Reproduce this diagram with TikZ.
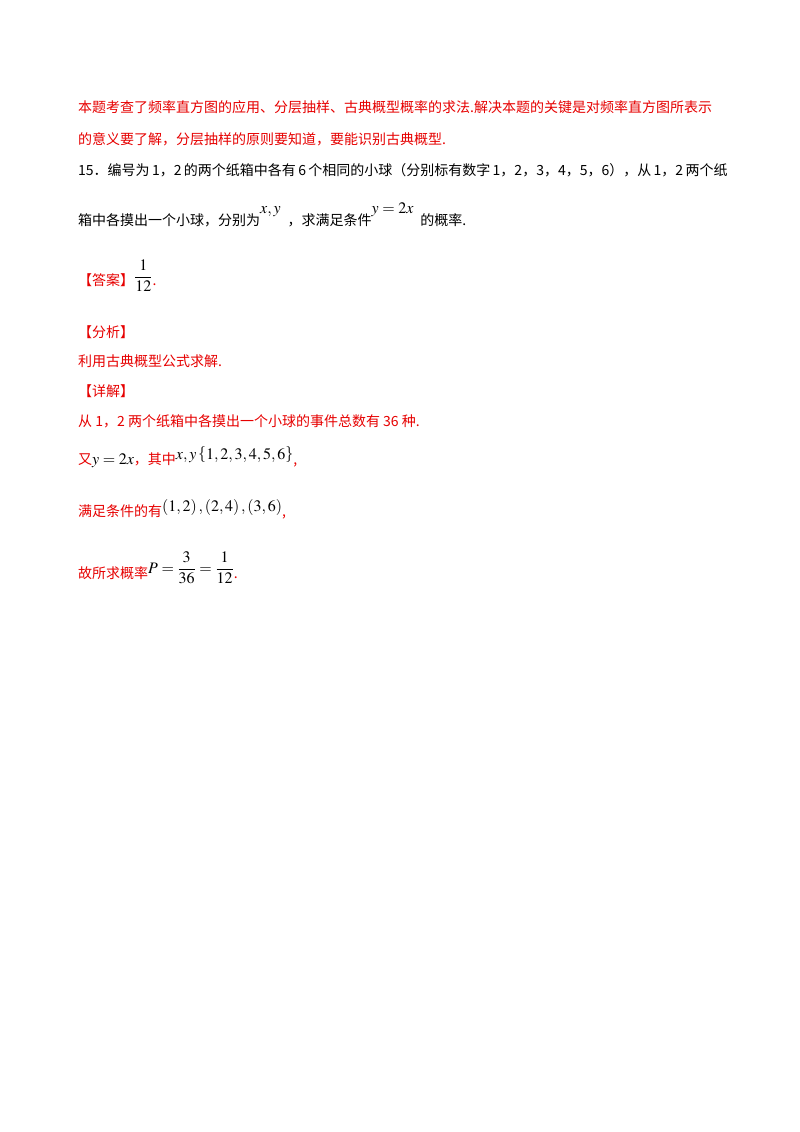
\documentclass[tikz,border=0pt]{standalone}
\usepackage{amsmath}
\usepackage{mathptmx}
\usepackage[no-math]{fontspec}
\setmainfont{Liberation Serif}
\newfontfamily\cjk{Noto Sans CJK SC}
\usepackage{xcolor}
\definecolor{ansred}{RGB}{230,0,0}
\newcommand{\mth}[1]{{\color{black}\fontsize{16}{16}\selectfont$#1$}}
\tikzset{ln/.style={anchor=base west,inner sep=0pt,font=\fontsize{14}{14}\selectfont\cjk},
 rd/.style={ln,text=ansred}}
\begin{document}
\begin{tikzpicture}[x=1pt,y=-1pt]
\useasboundingbox (0,0) rectangle (800,1132);
\node[rd] (l1) at (78,112) {本题考查了频率直方图的应用、分层抽样、古典概型概率的求法.解决本题的关键是对频率直方图所表示};
\node[rd] (l2) at (78,144) {的意义要了解，分层抽样的原则要知道，要能识别古典概型.};
\node[ln] (l3) at (78,175) {15．编号为\,1，2\,的两个纸箱中各有\,6\,个相同的小球（分别标有数字\,1，2，3，4，5，6），从\,1，2\,两个纸};
\node[ln] (l4) at (78,225) {箱中各摸出一个小球，分别为\raisebox{12pt}{\mth{x,y}}\enspace，求满足条件\raisebox{12pt}{\mth{y=2x}}\enspace 的概率.};
\node[rd] (l5) at (78,285) {【答案】\raisebox{4pt}{\mth{\dfrac{1}{12}}}.};
\node[rd] (l6) at (78,337) {【分析】};
\node[rd] (l7) at (78,366) {利用古典概型公式求解.};
\node[rd] (l8) at (78,396) {【详解】};
\node[rd] (l9) at (78,426) {从 1，2 两个纸箱中各摸出一个小球的事件总数有 36 种.};
\node[rd] (l10) at (78,464) {又\mth{y=2x}，其中\raisebox{5pt}{\mth{x,y\left\{1,2,3,4,5,6\right\}}},};
\node[rd] (l11) at (78,516) {满足条件的有\raisebox{5pt}{\mth{\left(1,2\right),\left(2,4\right),\left(3,6\right)}},};
\node[rd] (l12) at (78,578) {故所求概率\raisebox{5pt}{\mth{P=\dfrac{3}{36}=\dfrac{1}{12}}}.};
\end{tikzpicture}
\end{document}
